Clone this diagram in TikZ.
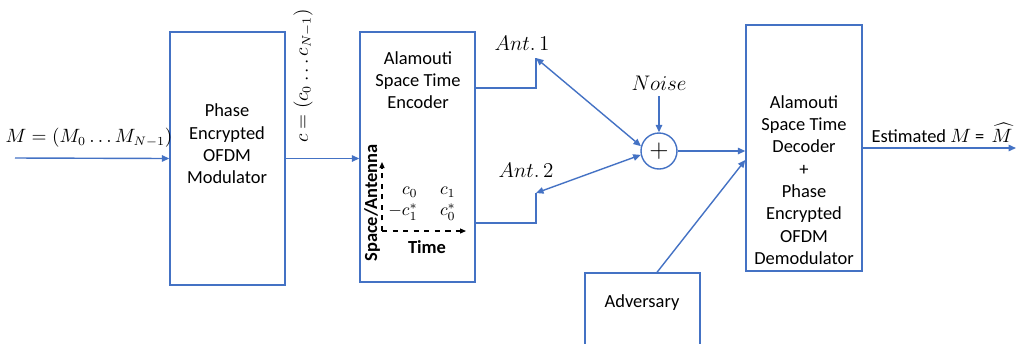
\documentclass[tikz,border=0pt]{standalone}
\usepackage{fontspec}
\setmainfont{Carlito}
\usepackage{amsmath}
\usetikzlibrary{positioning,arrows.meta,calc}
\definecolor{lineblue}{HTML}{4472C4}

\begin{document}
\begin{tikzpicture}[x=0.02cm, y=-0.02cm,
  blk/.style={draw=lineblue, line width=0.8pt, inner sep=0pt},
  txt/.style={align=center, font=\fontsize{10.5}{12.7}\selectfont},
  bold/.style={font=\fontsize{10.5}{12.7}\selectfont\bfseries},
  lbl/.style={font=\fontsize{11.5}{14}\selectfont},
  slbl/.style={font=\fontsize{10.5}{13}\selectfont},
  wire/.style={draw=lineblue, line width=0.8pt},
  arr/.style={wire, -{Triangle[length=1.5mm,width=1.3mm]}},
  darr/.style={wire, {Triangle[length=1.5mm,width=1.3mm]}-{Triangle[length=1.5mm,width=1.3mm]}},
  axis/.style={dashed, line width=0.7pt, -{Triangle[length=1.2mm,width=1mm]}}
]
  \clip (0,0) rectangle (1021,343);

  % blocks
  \node[blk, minimum width=2.3cm, minimum height=5.06cm] (mod) at (227.5,158.5) {};
  \node[blk, minimum width=2.3cm, minimum height=5cm] (enc) at (417.5,157) {};
  \node[blk, circle, minimum size=0.72cm] (sum) at (659,151) {\Large $+$};
  \node[blk, minimum width=2.32cm, minimum height=4.92cm] (dec) at (804,148) {};
  \node[blk, minimum width=2.3cm, minimum height=2.8cm] (adv) at (642.5,343) {};

  % block texts
  \node[txt] (modtxt) at (227,144) {Phase\\Encrypted\\OFDM\\Modulator};
  \node[txt] (enctxt) at (418,80) {Alamouti\\Space Time\\Encoder};
  \node[txt] (dectxt) at (804,180) {Alamouti\\Space Time\\Decoder\\+\\Phase\\Encrypted\\OFDM\\Demodulator};
  \node[txt] (advtxt) at (642,303) {Adversary};

  % code matrix inside the encoder
  \coordinate (org) at (382,231);
  \coordinate (ytip) at (382,162);
  \coordinate (xtip) at (466,231);
  \draw[axis] (org) -- (ytip);
  \draw[axis] (org) -- (xtip);
  \node[bold, rotate=90] (space) at (372,203) {Space/Antenna};
  \node[bold] (time) at (427,247) {Time};
  \node (cmat) at (422,201) {$\begin{array}{rl} c_0 & \;c_1\\ -c_1^* & \;c_0^* \end{array}$};

  % labels
  \node[slbl] (msg) at (89,138) {$M=(M_0 \ldots M_{N-1})$};
  \node[slbl, rotate=90] (code) at (303,76) {$c=(c_0 \ldots c_{N-1})$};
  \node[lbl] (ant1) at (522,43) {$Ant.\,1$};
  \node[lbl] (ant2) at (526,170) {$Ant.\,2$};
  \node[lbl] (noise) at (659,83) {$Noise$};
  \node[slbl] (est) at (942,133) {Estimated $M$ =\ \,$\widehat{M}$};

  \coordinate (in) at (15,158);
  \coordinate (out) at (1016,148);
  \coordinate (a1) at (536,58);
  \coordinate (a2) at (536,193);

  % connectors
  \draw[arr] (in) -- (mod.west);
  \draw[arr] (mod.east) -- (mod.east -| enc.west);
  \draw[wire] ([yshift=1.38cm]enc.east) -| (a1);
  \draw[wire] ([yshift=-1.32cm]enc.east) -| (a2);
  \draw[darr] (a1) -- (sum.165);
  \draw[darr] (a2) -- (sum.192);
  \draw[arr] (noise) -- (sum);
  \draw[arr] (sum) -- (sum -| dec.west);
  \draw[arr] ([xshift=0.29cm]adv.north) -- ([yshift=-0.24cm]dec.west);
  \draw[arr] (dec.east) -- (out);
\end{tikzpicture}
\end{document}
